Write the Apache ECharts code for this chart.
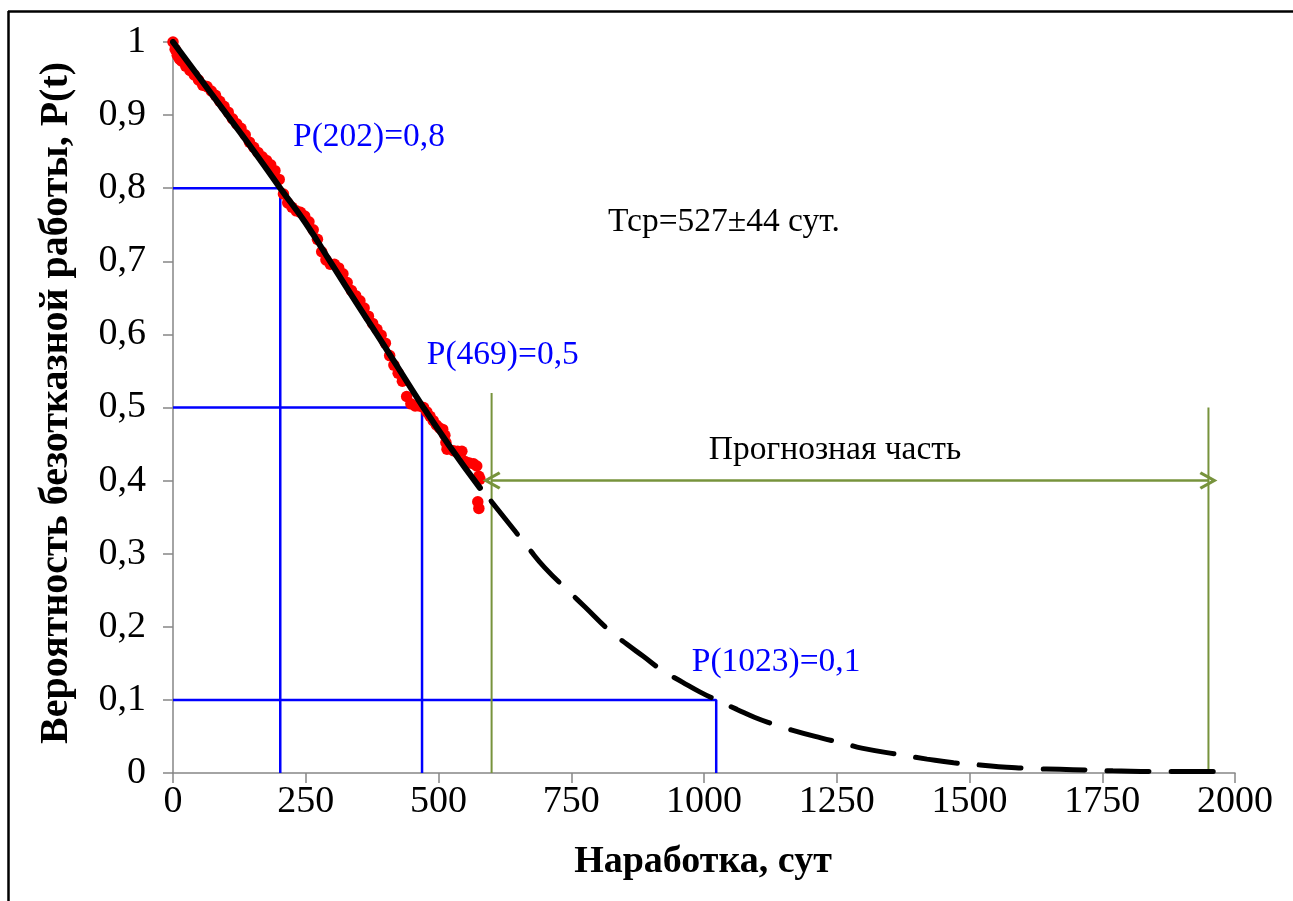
<!DOCTYPE html>
<html>
<head>
<meta charset="utf-8">
<script src="https://cdn.jsdelivr.net/npm/echarts@6/dist/echarts.min.js"></script>
<style>
  html, body { margin: 0; padding: 0; background: #fff; }
  #main { width: 1293px; height: 901px; }
</style>
</head>
<body>
<div id="main"></div>
<script>
var obsT = [0, 4, 8, 12, 16, 24, 32, 40, 48, 56, 64, 72, 80, 88, 96, 104, 112, 120, 128, 136, 144,
  152, 160, 168, 176, 184, 192, 200, 208, 216, 224, 232, 240, 248, 256, 264, 272, 280, 288,
  296, 304, 312, 320, 328, 336, 344, 352, 360, 368, 376, 384, 392, 400, 408, 416, 424, 432,
  440, 448, 456, 464, 472, 478, 484, 490, 496, 502, 508, 512, 514, 516, 528, 536, 544, 550,
  558, 566, 572, 576, 578, 574, 576];
var obsP = [1.0, 0.99, 0.982, 0.977, 0.974, 0.967, 0.961, 0.955, 0.948, 0.941, 0.939, 0.933, 0.927,
  0.919, 0.912, 0.904, 0.895, 0.888, 0.882, 0.873, 0.863, 0.856, 0.849, 0.843, 0.838, 0.832,
  0.824, 0.812, 0.792, 0.78, 0.774, 0.769, 0.767, 0.762, 0.754, 0.743, 0.73, 0.713, 0.702,
  0.696, 0.696, 0.691, 0.683, 0.671, 0.66, 0.653, 0.646, 0.636, 0.625, 0.615, 0.607, 0.599,
  0.588, 0.571, 0.558, 0.547, 0.536, 0.515, 0.505, 0.502, 0.502, 0.5, 0.494, 0.488, 0.482,
  0.476, 0.472, 0.47, 0.462, 0.452, 0.443, 0.441, 0.44, 0.44, 0.426, 0.424, 0.423, 0.42,
  0.406, 0.402, 0.371, 0.362];

// fitted curve, solid part
var fitT = [0, 50, 100, 150, 202, 250, 300, 350, 400, 469, 520, 578];
var fitP = [1.0, 0.951, 0.902, 0.853, 0.8, 0.752, 0.695, 0.638, 0.582, 0.503, 0.448, 0.39];

// forecast part, dashed
var fcT = [599, 644, 669, 700, 746, 776, 820, 855, 885, 920, 960, 992, 1023, 1062, 1096, 1130,
  1164, 1220, 1266, 1297, 1369, 1420, 1470, 1520, 1570, 1620, 1670, 1720, 1770, 1870, 1974];
var fcP = [0.372, 0.331, 0.308, 0.281, 0.248, 0.227, 0.196, 0.176, 0.16, 0.141, 0.124, 0.111,
  0.1, 0.087, 0.076, 0.067, 0.059, 0.048, 0.04, 0.034, 0.025, 0.019, 0.014, 0.011, 0.008,
  0.006, 0.005, 0.004, 0.003, 0.002, 0.002];

// reading points P(t)
var markT = [202, 469, 1023];
var markP = [0.8, 0.5, 0.1];
var markText = ['P(202)=0,8', 'P(469)=0,5', 'P(1023)=0,1'];
var markTextT = [226, 478, 977];
var markTextP = [0.870, 0.572, 0.152];

// forecast zone
var zoneT = [600, 1950];
var zoneTop = [0.52, 0.5];
var zoneArrowP = 0.4;

var xTicks = [0, 250, 500, 750, 1000, 1250, 1500, 1750, 2000];
var yTicks = [0, 0.1, 0.2, 0.3, 0.4, 0.5, 0.6, 0.7, 0.8, 0.9, 1];

function zip(a, b) {
  var out = [];
  for (var i = 0; i < a.length; i++) out.push([a[i], b[i]]);
  return out;
}

var serif = '"Liberation Serif", "Times New Roman", serif';
var blue = '#0000ff';
var olive = '#77933c';

var series = [];

// blue guide lines
for (var i = 0; i < markT.length; i++) {
  series.push({
    type: 'line', silent: true, symbol: 'none', z: 2,
    lineStyle: { color: blue, width: 2.5 },
    data: [[0, markP[i]], [markT[i], markP[i]], [markT[i], 0]]
  });
}

// olive vertical borders of forecast zone
for (var j = 0; j < zoneT.length; j++) {
  series.push({
    type: 'line', silent: true, symbol: 'none', z: 2,
    lineStyle: { color: olive, width: 2 },
    data: [[zoneT[j], 0], [zoneT[j], zoneTop[j]]]
  });
}

var openArrow = 'path://M5,0 L10,9 L8.6,10 L5,3.4 L1.4,10 L0,9 Z';
series.push({
  type: 'line', silent: true, symbol: 'none', data: [], z: 2,
  markLine: {
    silent: true, symbol: [openArrow, openArrow], symbolSize: 18,
    label: { show: false },
    lineStyle: { color: olive, width: 2.5, type: 'solid' },
    data: [[{ coord: [zoneT[0], zoneArrowP] }, { coord: [zoneT[1], zoneArrowP] }]]
  }
});

series.push({
  type: 'scatter', silent: true, z: 3,
  symbolSize: 11.5,
  itemStyle: { color: '#ff0000', opacity: 1 },
  data: zip(obsT, obsP)
});

series.push({
  type: 'line', silent: true, symbol: 'none', smooth: true, z: 4,
  lineStyle: { color: '#000', width: 6, cap: 'round' },
  data: zip(fitT, fitP)
});

series.push({
  type: 'line', silent: true, symbol: 'none', smooth: true, z: 4,
  lineStyle: { color: '#000', width: 5, type: [42, 22], cap: 'round' },
  data: zip(fcT, fcP)
});

// text annotations
var notes = [];
for (var k = 0; k < markText.length; k++) {
  notes.push({ value: [markTextT[k], markTextP[k]], name: markText[k], color: blue });
}
notes.push({ value: [819, 0.754], name: 'Тср=527±44 сут.', color: '#000' });
notes.push({ value: [1009, 0.442], name: 'Прогнозная часть', color: '#000' });

series.push({
  type: 'scatter', silent: true, symbolSize: 0, z: 5,
  itemStyle: { opacity: 1 },
  data: notes.map(function (n) {
    return {
      value: n.value, name: n.name,
      label: {
        show: true, position: 'inside', align: 'left', verticalAlign: 'middle',
        formatter: '{b}', color: n.color, opacity: 1, fontFamily: serif, fontSize: 33.5
      }
    };
  })
});

var chart = echarts.init(document.getElementById('main'));
chart.setOption({
  backgroundColor: '#fff',
  animation: false,
  grid: { left: 173, right: 58, top: 42, bottom: 128 },
  xAxis: {
    type: 'value', min: 0, max: 2000, interval: 250,
    axisLine: { show: true, onZero: false, lineStyle: { color: '#868686', width: 1.5 } },
    axisTick: { show: true, length: 10, lineStyle: { color: '#868686', width: 1.5 } },
    splitLine: { show: false },
    axisLabel: {
      color: '#000', fontFamily: serif, fontSize: 38, margin: 10,
      formatter: function (v) { return String(v); }
    }
  },
  yAxis: {
    type: 'value', min: 0, max: 1, interval: 0.1,
    axisLine: { show: true, onZero: false, lineStyle: { color: '#868686', width: 1.5 } },
    axisTick: { show: true, length: 10, lineStyle: { color: '#868686', width: 1.5 } },
    splitLine: { show: false },
    axisLabel: {
      color: '#000', fontFamily: serif, fontSize: 38, margin: 27,
      formatter: function (v) { return String(Math.round(v * 10) / 10).replace('.', ','); }
    }
  },
  graphic: [
    { type: 'line', shape: { x1: 8.5, y1: 11, x2: 8.5, y2: 901 }, style: { stroke: '#000', lineWidth: 2.5 } },
    { type: 'line', shape: { x1: 8, y1: 11.5, x2: 1293, y2: 11.5 }, style: { stroke: '#000', lineWidth: 2.5 } },
    {
      type: 'text', x: 57, y: 403, rotation: Math.PI / 2,
      style: {
        text: 'Вероятность безотказной работы, P(t)', fill: '#000',
        font: 'bold 40px ' + serif, textAlign: 'center', textVerticalAlign: 'middle',
        align: 'center', verticalAlign: 'middle'
      }
    },
    {
      type: 'text', x: 703, y: 862,
      style: {
        text: 'Наработка, сут', fill: '#000',
        font: 'bold 38px ' + serif, textAlign: 'center', textVerticalAlign: 'middle',
        align: 'center', verticalAlign: 'middle'
      }
    }
  ],
  series: series
});
</script>
</body>
</html>
